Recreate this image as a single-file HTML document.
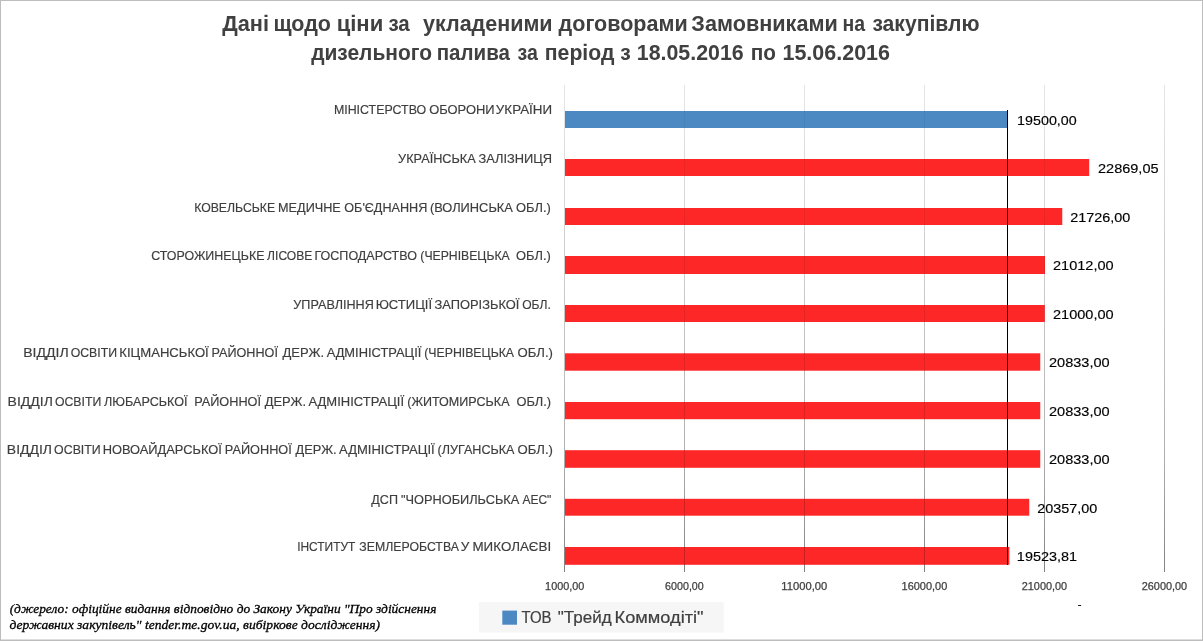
<!DOCTYPE html>
<html lang="uk">
<head>
<meta charset="utf-8">
<title>Дані щодо ціни за укладеними договорами</title>
<style>
html,body{margin:0;padding:0;background:#fff;}
body{width:1203px;height:641px;overflow:hidden;}
svg{display:block;}
text{white-space:pre;}
.sans{font-family:"Liberation Sans",sans-serif;}
.serif{font-family:"Liberation Serif",serif;}
.cat text{word-spacing:-0.6px;}
</style>
</head>
<body>
<svg width="1203" height="641" viewBox="0 0 1203 641">
<rect id="bg" x="0" y="0" width="1203" height="641" fill="#ffffff"/>
<g id="gfx">
<defs><linearGradient id="gg" x1="0" y1="0" x2="0" y2="1"><stop offset="0" stop-color="#000" stop-opacity="0.10"/><stop offset="0.5" stop-color="#000" stop-opacity="0.23"/><stop offset="0.75" stop-color="#000" stop-opacity="0.31"/><stop offset="1" stop-color="#000" stop-opacity="0.49"/></linearGradient><clipPath id="bc"><rect x="565" y="111" width="442.50" height="17.00"/><rect x="565" y="159" width="524.20" height="17.00"/><rect x="565" y="208" width="497.25" height="17.00"/><rect x="565" y="256" width="480.00" height="18.00"/><rect x="565" y="305" width="479.80" height="17.00"/><rect x="565" y="353.3" width="475.25" height="17.40"/><rect x="565" y="402" width="475.25" height="17.20"/><rect x="565" y="450.2" width="475.25" height="17.60"/><rect x="565" y="498.8" width="464.25" height="16.90"/><rect x="565" y="547" width="444.40" height="17.80"/></clipPath></defs>
<g shape-rendering="crispEdges" fill="url(#gg)">
<rect x="564.0" y="85" width="1" height="486.6"/>
<rect x="684.0" y="85" width="1" height="486.6"/>
<rect x="804.0" y="85" width="1" height="486.6"/>
<rect x="924.0" y="85" width="1" height="486.6"/>
<rect x="1044.0" y="85" width="1" height="486.6"/>
<rect x="1164.0" y="85" width="1" height="486.6"/>
</g>
<rect x="479" y="602.2" width="244.75" height="30.3" fill="#f6f6f7"/>
<rect x="502.3" y="610.6" width="14.7" height="14.1" fill="#4c89c2"/>
<rect x="565" y="111" width="442.50" height="17.00" fill="#4c89c2"/>
<rect x="565" y="159" width="524.20" height="17.00" fill="#fe2727"/>
<rect x="565" y="208" width="497.25" height="17.00" fill="#fe2727"/>
<rect x="565" y="256" width="480.00" height="18.00" fill="#fe2727"/>
<rect x="565" y="305" width="479.80" height="17.00" fill="#fe2727"/>
<rect x="565" y="353.3" width="475.25" height="17.40" fill="#fe2727"/>
<rect x="565" y="402" width="475.25" height="17.20" fill="#fe2727"/>
<rect x="565" y="450.2" width="475.25" height="17.60" fill="#fe2727"/>
<rect x="565" y="498.8" width="464.25" height="16.90" fill="#fe2727"/>
<rect x="565" y="547" width="444.40" height="17.80" fill="#fe2727"/>
<g shape-rendering="crispEdges" fill="url(#gg)" clip-path="url(#bc)" opacity="0.45">
<rect x="684.0" y="85" width="1" height="486.6"/>
<rect x="804.0" y="85" width="1" height="486.6"/>
<rect x="924.0" y="85" width="1" height="486.6"/>
<rect x="1044.0" y="85" width="1" height="486.6"/>
</g>
<rect x="1007" y="110" width="1" height="455" fill="#000" shape-rendering="crispEdges"/>
<g fill="#bdbdbd" shape-rendering="crispEdges"><rect x="0" y="0" width="1203" height="1"/><rect x="0" y="0" width="1" height="641"/><rect x="1202" y="0" width="1" height="641"/><rect x="0" y="640" width="1203" height="1"/><rect x="0" y="639" width="1203" height="1" opacity="0.5"/></g>
</g>
<g class="sans" font-weight="bold" font-size="21.4" fill="#404040">
<text id="t1_0" x="222.23" y="31.25" textLength="46.76" lengthAdjust="spacingAndGlyphs">Дані</text>
<text id="t1_1" x="273.51" y="31.25" textLength="57.41" lengthAdjust="spacingAndGlyphs">щодо</text>
<text id="t1_2" x="336.66" y="31.25" textLength="46.58" lengthAdjust="spacingAndGlyphs">ціни</text>
<text id="t1_3" x="388.44" y="31.25" textLength="21.34" lengthAdjust="spacingAndGlyphs">за</text>
<text id="t1_4" x="422.96" y="31.25" textLength="129.66" lengthAdjust="spacingAndGlyphs">укладеними</text>
<text id="t1_5" x="558.61" y="31.25" textLength="129.06" lengthAdjust="spacingAndGlyphs">договорами</text>
<text id="t1_6" x="691.38" y="31.25" textLength="146.35" lengthAdjust="spacingAndGlyphs">Замовниками</text>
<text id="t1_7" x="842.43" y="31.25" textLength="22.58" lengthAdjust="spacingAndGlyphs">на</text>
<text id="t1_8" x="872.39" y="31.25" textLength="107.15" lengthAdjust="spacingAndGlyphs">закупівлю</text>
<text id="t2_0" x="311.13" y="60" textLength="120.91" lengthAdjust="spacingAndGlyphs">дизельного</text>
<text id="t2_1" x="436.74" y="60" textLength="73.19" lengthAdjust="spacingAndGlyphs">палива</text>
<text id="t2_2" x="517.52" y="60" textLength="20.34" lengthAdjust="spacingAndGlyphs">за</text>
<text id="t2_3" x="544.84" y="60" textLength="85.92" lengthAdjust="spacingAndGlyphs">період з</text>
<text id="t2_4" x="636.76" y="60" textLength="106.97" lengthAdjust="spacingAndGlyphs">18.05.2016</text>
<text id="t2_5" x="750.65" y="60" textLength="25.22" lengthAdjust="spacingAndGlyphs">по</text>
<text id="t2_6" x="782.48" y="60" textLength="107.56" lengthAdjust="spacingAndGlyphs">15.06.2016</text>
</g>
<g class="sans cat" font-size="13.3" fill="#3e3e3e" stroke="#3e3e3e" stroke-width="0.18">
<text id="c0_0" x="333.91" y="114.25" textLength="92.24" lengthAdjust="spacingAndGlyphs">МІНІСТЕРСТВО</text>
<text id="c0_1" x="429.23" y="114.25" textLength="65.37" lengthAdjust="spacingAndGlyphs">ОБОРОНИ</text>
<text id="c0_2" x="495.87" y="114.25" textLength="56.19" lengthAdjust="spacingAndGlyphs">УКРАЇНИ</text>
<text id="c1_0" x="398.11" y="163" textLength="77.57" lengthAdjust="spacingAndGlyphs">УКРАЇНСЬКА</text>
<text id="c1_1" x="478.48" y="163" textLength="73.60" lengthAdjust="spacingAndGlyphs">ЗАЛІЗНИЦЯ</text>
<text id="c2_0" x="194.14" y="211.75" textLength="80.99" lengthAdjust="spacingAndGlyphs">КОВЕЛЬСЬКЕ</text>
<text id="c2_1" x="278.04" y="211.75" textLength="62.78" lengthAdjust="spacingAndGlyphs">МЕДИЧНЕ</text>
<text id="c2_2" x="344.28" y="211.75" textLength="83.05" lengthAdjust="spacingAndGlyphs">ОБ'ЄДНАННЯ</text>
<text id="c2_3" x="429.94" y="211.75" textLength="82.92" lengthAdjust="spacingAndGlyphs">(ВОЛИНСЬКА</text>
<text id="c2_4" x="516.06" y="211.75" textLength="34.81" lengthAdjust="spacingAndGlyphs">ОБЛ.)</text>
<text id="c3_0" x="151.21" y="260.3" textLength="113.27" lengthAdjust="spacingAndGlyphs">СТОРОЖИНЕЦЬКЕ</text>
<text id="c3_1" x="267.12" y="260.3" textLength="45.30" lengthAdjust="spacingAndGlyphs">ЛІСОВЕ</text>
<text id="c3_2" x="314.51" y="260.3" textLength="102.38" lengthAdjust="spacingAndGlyphs">ГОСПОДАРСТВО</text>
<text id="c3_3" x="420.35" y="260.3" textLength="89.35" lengthAdjust="spacingAndGlyphs">(ЧЕРНІВЕЦЬКА</text>
<text id="c3_4" x="516.06" y="260.3" textLength="34.81" lengthAdjust="spacingAndGlyphs">ОБЛ.)</text>
<text id="c4_0" x="293.35" y="308.9" textLength="80.41" lengthAdjust="spacingAndGlyphs">УПРАВЛІННЯ</text>
<text id="c4_1" x="375.79" y="308.9" textLength="56.33" lengthAdjust="spacingAndGlyphs">ЮСТИЦІЇ</text>
<text id="c4_2" x="434.57" y="308.9" textLength="84.77" lengthAdjust="spacingAndGlyphs">ЗАПОРІЗЬКОЇ</text>
<text id="c4_3" x="522.14" y="308.9" textLength="28.64" lengthAdjust="spacingAndGlyphs">ОБЛ.</text>
<text id="c5_0" x="23.24" y="357" textLength="45.39" lengthAdjust="spacingAndGlyphs">ВІДДІЛ</text>
<text id="c5_1" x="70.70" y="357" textLength="46.39" lengthAdjust="spacingAndGlyphs">ОСВІТИ</text>
<text id="c5_2" x="119.28" y="357" textLength="89.49" lengthAdjust="spacingAndGlyphs">КІЦМАНСЬКОЇ</text>
<text id="c5_3" x="211.48" y="357" textLength="66.46" lengthAdjust="spacingAndGlyphs">РАЙОННОЇ</text>
<text id="c5_4" x="282.57" y="357" textLength="41.52" lengthAdjust="spacingAndGlyphs">ДЕРЖ.</text>
<text id="c5_5" x="326.63" y="357" textLength="94.69" lengthAdjust="spacingAndGlyphs">АДМІНІСТРАЦІЇ</text>
<text id="c5_6" x="424.24" y="357" textLength="89.80" lengthAdjust="spacingAndGlyphs">(ЧЕРНІВЕЦЬКА</text>
<text id="c5_7" x="517.44" y="357" textLength="35.46" lengthAdjust="spacingAndGlyphs">ОБЛ.)</text>
<text id="c6_0" x="7.63" y="406.25" textLength="45.23" lengthAdjust="spacingAndGlyphs">ВІДДІЛ</text>
<text id="c6_1" x="54.93" y="406.25" textLength="46.34" lengthAdjust="spacingAndGlyphs">ОСВІТИ</text>
<text id="c6_2" x="104.09" y="406.25" textLength="83.45" lengthAdjust="spacingAndGlyphs">ЛЮБАРСЬКОЇ</text>
<text id="c6_3" x="194.13" y="406.25" textLength="66.85" lengthAdjust="spacingAndGlyphs">РАЙОННОЇ</text>
<text id="c6_4" x="264.76" y="406.25" textLength="41.35" lengthAdjust="spacingAndGlyphs">ДЕРЖ.</text>
<text id="c6_5" x="308.48" y="406.25" textLength="95.56" lengthAdjust="spacingAndGlyphs">АДМІНІСТРАЦІЇ</text>
<text id="c6_6" x="407.21" y="406.25" textLength="102.34" lengthAdjust="spacingAndGlyphs">(ЖИТОМИРСЬКА</text>
<text id="c6_7" x="516.47" y="406.25" textLength="34.65" lengthAdjust="spacingAndGlyphs">ОБЛ.)</text>
<text id="c7_0" x="6.83" y="454.25" textLength="45.23" lengthAdjust="spacingAndGlyphs">ВІДДІЛ</text>
<text id="c7_1" x="54.10" y="454.25" textLength="46.65" lengthAdjust="spacingAndGlyphs">ОСВІТИ</text>
<text id="c7_2" x="102.64" y="454.25" textLength="119.19" lengthAdjust="spacingAndGlyphs">НОВОАЙДАРСЬКОЇ</text>
<text id="c7_3" x="224.85" y="454.25" textLength="66.90" lengthAdjust="spacingAndGlyphs">РАЙОННОЇ</text>
<text id="c7_4" x="295.56" y="454.25" textLength="41.01" lengthAdjust="spacingAndGlyphs">ДЕРЖ.</text>
<text id="c7_5" x="339.08" y="454.25" textLength="95.56" lengthAdjust="spacingAndGlyphs">АДМІНІСТРАЦІЇ</text>
<text id="c7_6" x="437.50" y="454.25" textLength="77.01" lengthAdjust="spacingAndGlyphs">(ЛУГАНСЬКА</text>
<text id="c7_7" x="517.44" y="454.25" textLength="35.46" lengthAdjust="spacingAndGlyphs">ОБЛ.)</text>
<text id="c8_0" x="371.37" y="503.75" textLength="26.62" lengthAdjust="spacingAndGlyphs">ДСП</text>
<text id="c8_1" x="401.04" y="503.75" textLength="118.23" lengthAdjust="spacingAndGlyphs">"ЧОРНОБИЛЬСЬКА</text>
<text id="c8_2" x="522.46" y="503.75" textLength="28.91" lengthAdjust="spacingAndGlyphs">АЕС"</text>
<text id="c9_0" x="297.13" y="551.25" textLength="58.26" lengthAdjust="spacingAndGlyphs">ІНСТИТУТ</text>
<text id="c9_1" x="359.37" y="551.25" textLength="99.52" lengthAdjust="spacingAndGlyphs">ЗЕМЛЕРОБСТВА</text>
<text id="c9_2" x="460.87" y="551.25" textLength="90.25" lengthAdjust="spacingAndGlyphs">У МИКОЛАЄВІ</text>
</g>
<g class="sans" font-size="13.6" fill="#000" stroke="#000" stroke-width="0.15">
<text id="d0" x="1017.13" y="125" textLength="59.60" lengthAdjust="spacingAndGlyphs">19500,00</text>
<text id="d1" x="1098.03" y="173" textLength="60.51" lengthAdjust="spacingAndGlyphs">22869,05</text>
<text id="d2" x="1070.25" y="221.75" textLength="60.06" lengthAdjust="spacingAndGlyphs">21726,00</text>
<text id="d3" x="1053.04" y="270" textLength="60.57" lengthAdjust="spacingAndGlyphs">21012,00</text>
<text id="d4" x="1053.04" y="319.25" textLength="60.57" lengthAdjust="spacingAndGlyphs">21000,00</text>
<text id="d5" x="1049.03" y="366.75" textLength="60.61" lengthAdjust="spacingAndGlyphs">20833,00</text>
<text id="d6" x="1049.03" y="416.25" textLength="60.61" lengthAdjust="spacingAndGlyphs">20833,00</text>
<text id="d7" x="1049.03" y="464.25" textLength="60.61" lengthAdjust="spacingAndGlyphs">20833,00</text>
<text id="d8" x="1037.25" y="513" textLength="60.06" lengthAdjust="spacingAndGlyphs">20357,00</text>
<text id="d9" x="1016.87" y="560.8" textLength="60.18" lengthAdjust="spacingAndGlyphs">19523,81</text>
</g>
<g class="sans" font-size="10.9" fill="#404040" stroke="#404040" stroke-width="0.25">
<text id="a0" x="545.10" y="590" textLength="39.23" lengthAdjust="spacingAndGlyphs">1000,00</text>
<text id="a1" x="665.10" y="590" textLength="38.69" lengthAdjust="spacingAndGlyphs">6000,00</text>
<text id="a2" x="781.38" y="590" textLength="45.88" lengthAdjust="spacingAndGlyphs">11000,00</text>
<text id="a3" x="901.60" y="590" textLength="45.71" lengthAdjust="spacingAndGlyphs">16000,00</text>
<text id="a4" x="1021.77" y="590" textLength="45.42" lengthAdjust="spacingAndGlyphs">21000,00</text>
<text id="a5" x="1141.77" y="590" textLength="45.42" lengthAdjust="spacingAndGlyphs">26000,00</text>
</g>
<g class="sans" font-size="16.8" fill="#404040" stroke="#404040" stroke-width="0.2">
<text id="leg0" x="521.41" y="623" textLength="30.10" lengthAdjust="spacingAndGlyphs">ТОВ</text>
<text id="leg1" x="557.82" y="623" textLength="53.87" lengthAdjust="spacingAndGlyphs">"Трейд</text>
<text id="leg2" x="614.58" y="623" textLength="89.00" lengthAdjust="spacingAndGlyphs">Коммодіті"</text>
</g>
<g class="serif" font-style="italic" font-size="13.33" fill="#000" stroke="#000" stroke-width="0.3">
<text id="f1" x="9.65" y="613" textLength="426.76" lengthAdjust="spacingAndGlyphs">(джерело: офіційне видання відповідно до Закону України "Про здійснення</text>
<text id="f2" x="9.46" y="628.6" textLength="370.68" lengthAdjust="spacingAndGlyphs">державних закупівель" tender.me.gov.ua, вибіркове дослідження)</text>
</g>
<g class="sans" font-size="11" fill="#000" stroke="#000" stroke-width="0.2">
<text id="dash" x="1077.75" y="607.55" textLength="3.75" lengthAdjust="spacingAndGlyphs">-</text>
</g>
</svg>
</body>
</html>
